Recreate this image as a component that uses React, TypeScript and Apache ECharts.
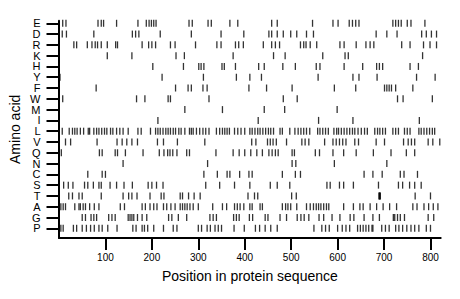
import React, { useEffect, useRef } from "react";
import * as echarts from "echarts";

// Amino acids, top row to bottom row
const aminoAcids = ["E", "D", "R", "K", "H", "Y", "F", "W", "M", "I", "L", "V", "Q", "N", "C", "S", "T", "A", "G", "P"];
const xTicks = [100, 200, 300, 400, 500, 600, 700, 800];
const sequenceLength = 822;

const posE = [8, 15, 84, 91, 96, 124, 170, 188, 194, 199, 204, 209, 280, 287, 321, 328, 368, 385, 458, 470, 546, 590, 601, 625, 632, 639, 646, 719, 725, 731, 737, 750, 758, 788];
const posD = [7, 16, 75, 158, 165, 172, 218, 285, 349, 398, 452, 458, 470, 483, 499, 512, 533, 548, 683, 706, 728, 781, 791, 802, 813];
const posR = [32, 38, 61, 71, 78, 83, 91, 104, 122, 126, 179, 193, 200, 208, 240, 250, 294, 340, 349, 380, 387, 397, 440, 458, 466, 475, 520, 527, 532, 541, 555, 605, 614, 640, 661, 670, 678, 738, 756, 785, 799, 813];
const posK = [104, 157, 252, 270, 375, 462, 487, 568, 616, 623, 783];
const posH = [202, 268, 301, 306, 312, 351, 356, 380, 430, 442, 482, 509, 554, 562, 614, 654, 684, 690, 697, 756, 774];
const posY = [1, 2, 222, 311, 382, 411, 436, 558, 633, 646, 685, 770, 810];
const posF = [80, 251, 278, 285, 310, 319, 409, 447, 502, 593, 639, 701, 706, 711, 716, 725, 762];
const posW = [8, 167, 185, 235, 240, 323, 483, 513, 729, 741, 804];
const posM = [271, 352, 442, 486, 599];
const posI = [213, 429, 559, 633, 776];
const posL = [7, 22, 29, 34, 39, 46, 53, 63, 66, 75, 81, 86, 92, 98, 103, 111, 116, 124, 131, 138, 149, 170, 177, 197, 208, 213, 218, 224, 230, 235, 240, 246, 251, 258, 263, 271, 281, 285, 289, 296, 303, 310, 316, 323, 339, 346, 352, 357, 362, 367, 378, 385, 392, 400, 411, 416, 422, 428, 433, 439, 445, 451, 456, 462, 476, 481, 497, 508, 515, 521, 527, 533, 540, 557, 562, 568, 574, 580, 592, 598, 602, 608, 614, 620, 626, 632, 637, 644, 651, 658, 664, 680, 686, 691, 697, 703, 719, 725, 731, 744, 750, 756, 775, 780, 786, 792, 798, 804, 809];
const posV = [14, 25, 82, 125, 136, 146, 157, 169, 212, 225, 255, 314, 415, 424, 449, 455, 461, 468, 490, 523, 530, 538, 572, 590, 597, 604, 611, 618, 637, 645, 683, 701, 742, 752, 759, 766, 795, 805, 820];
const posQ = [5, 87, 93, 121, 126, 143, 181, 216, 226, 234, 239, 245, 254, 275, 281, 338, 375, 388, 400, 413, 426, 438, 452, 459, 466, 472, 502, 507, 552, 561, 590, 613, 640, 677, 715, 748, 766];
const posN = [138, 320, 502, 510, 593, 706];
const posC = [62, 93, 100, 312, 341, 362, 368, 389, 409, 416, 481, 509, 520, 657, 676, 696, 735, 743, 772];
const posS = [10, 20, 30, 55, 62, 74, 86, 91, 110, 124, 140, 158, 192, 200, 210, 224, 316, 346, 378, 411, 455, 470, 497, 577, 584, 604, 613, 634, 688, 731, 740, 755, 766, 780];
const posT = [21, 29, 43, 50, 91, 138, 150, 157, 168, 196, 220, 226, 261, 266, 279, 291, 304, 407, 421, 428, 501, 511, 689, 690, 691, 692, 767, 800];
const posA = [4, 9, 14, 34, 43, 46, 52, 57, 66, 76, 86, 132, 141, 179, 186, 196, 204, 211, 225, 232, 241, 250, 261, 266, 271, 276, 282, 289, 300, 331, 352, 361, 378, 384, 390, 398, 411, 416, 433, 438, 481, 488, 493, 499, 512, 533, 541, 548, 554, 559, 564, 570, 576, 581, 613, 634, 648, 655, 670, 684, 698, 712, 727, 762, 771, 786, 796, 806, 816];
const posG = [50, 57, 69, 75, 81, 107, 114, 121, 149, 153, 157, 161, 169, 179, 189, 236, 243, 257, 275, 325, 332, 339, 376, 382, 388, 410, 417, 444, 450, 476, 490, 513, 521, 528, 538, 560, 570, 588, 605, 627, 635, 657, 676, 690, 720, 723, 729, 735, 744, 795, 807];
const posP = [4, 9, 31, 38, 50, 59, 68, 76, 86, 93, 105, 125, 159, 166, 179, 184, 191, 204, 225, 246, 254, 300, 307, 319, 326, 336, 343, 350, 377, 399, 423, 432, 444, 456, 470, 549, 566, 574, 582, 600, 610, 618, 626, 643, 649, 655, 661, 667, 674, 676, 695, 703, 711, 725, 732, 740, 749, 758, 766, 775, 791, 800];

const positions: number[][] = [posE, posD, posR, posK, posH, posY, posF, posW, posM, posI, posL, posV, posQ, posN, posC, posS, posT, posA, posG, posP];

export default function App() {
  const ref = useRef<HTMLDivElement>(null);
  useEffect(() => {
    const chart = echarts.init(ref.current!, null, { renderer: "svg" });
    const data: number[][] = [];
    aminoAcids.forEach((aa, i) => {
      positions[i].forEach((p) => data.push([p, aminoAcids.length - i]));
    });
    const font = "Liberation Sans, Arial, Helvetica, sans-serif";
    const bottomUp = [...aminoAcids].reverse();
    chart.setOption({
      animation: false,
      backgroundColor: "#fff",
      grid: [
        { left: 58.5, right: 19.3, top: 20.7, bottom: 61, containLabel: false },
        // label grid: spans exactly from the centre of row P to the centre of row E
        { left: 58.5, right: 19.3, top: 23.3, bottom: 70.7, containLabel: false },
      ],
      xAxis: [
        {
          type: "value",
          gridIndex: 0,
          min: 0,
          max: sequenceLength,
          splitLine: { show: false },
          axisLine: { show: true, onZero: false, lineStyle: { color: "#000", width: 2 } },
          axisTick: { show: true, customValues: xTicks, length: 12, lineStyle: { color: "#000", width: 2 } },
          axisLabel: { customValues: xTicks, margin: 14, fontSize: 10, color: "#000", fontFamily: font, showMinLabel: true, showMaxLabel: true },
          name: "Position in protein sequence",
          nameLocation: "middle",
          nameGap: 31,
          nameTextStyle: { fontSize: 14, color: "#000", fontFamily: font },
        },
        { type: "value", gridIndex: 1, show: false, min: 0, max: sequenceLength },
      ],
      yAxis: [
        {
          type: "value",
          gridIndex: 0,
          min: 0.1,
          max: 20.24,
          splitLine: { show: false },
          axisLine: { show: true, onZero: false, lineStyle: { color: "#000", width: 2 } },
          axisTick: { show: false },
          axisLabel: { show: false },
          name: "Amino acid",
          nameLocation: "middle",
          nameGap: 37,
          nameRotate: 90,
          nameTextStyle: { fontSize: 14, color: "#000", fontFamily: font },
        },
        {
          type: "category",
          gridIndex: 1,
          data: bottomUp,
          boundaryGap: false,
          splitLine: { show: false },
          axisLine: { show: false },
          axisTick: { show: true, interval: 0, alignWithLabel: true, length: 12, lineStyle: { color: "#000", width: 2 } },
          axisLabel: { interval: 0, margin: 18, fontSize: 11, color: "#000", fontFamily: font },
        },
      ],
      series: [
        {
          type: "scatter",
          xAxisIndex: 0,
          yAxisIndex: 0,
          symbol: "rect",
          symbolSize: [1.3, 7],
          silent: true,
          itemStyle: { color: "#000" },
          data,
        },
      ],
    });
    return () => chart.dispose();
  }, []);
  return <div ref={ref} style={{ position: "fixed", left: 0, top: 0, width: 460, height: 299 }} />;
}
